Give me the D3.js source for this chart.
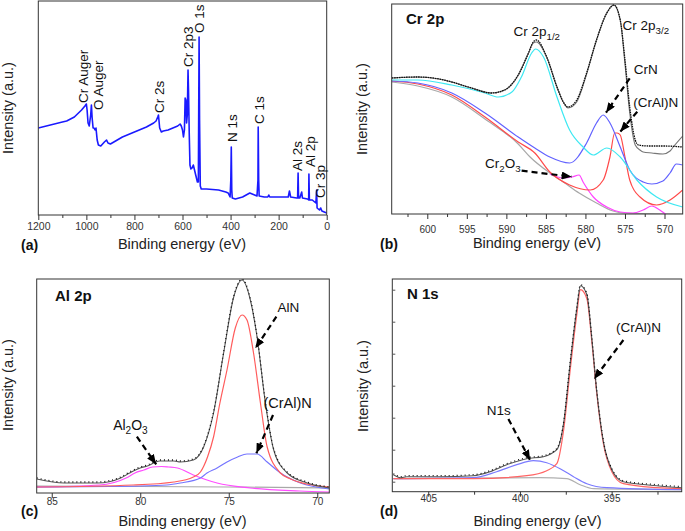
<!DOCTYPE html>
<html><head><meta charset="utf-8">
<script src="https://cdn.jsdelivr.net/npm/d3@7"></script>
<style>
body{margin:0;background:#fff;}
svg{display:block;font-family:"Liberation Sans",Arial,Helvetica,sans-serif;}
</style></head><body>
<svg id="fig" width="685" height="531"></svg>
<script>
// ---------------- DATA (binding energy eV, intensity a.u.) ----------------
// (a) survey spectrum
const surveySpectrum = [[1200,87],[1150,90],[1100,93],[1082,94],[1050,98],[1020,105],[1006,109],[1000,111],[997,105],[993,92],[988,89],[982,100],[979,110],[976,97],[972,87],[968,87],[964,85],[960,87],[955,75],[950,70],[940,69],[925,73],[916,75],[910,72],[900,71],[850,78],[800,83],[750,88],[720,92],[710,94],[703,98],[700,100],[695,87],[688,83],[680,84],[660,85],[640,87],[620,89],[610,91],[605,89],[600,85],[596,78],[592,85],[589,117],[586,115],[583,92],[580,100],[577,145],[575,125],[572,82],[569,50],[565,46],[560,47],[555,50],[550,45],[545,40],[538,33],[534,33],[531,178],[529,95],[526,29],[522,26],[500,26],[450,25],[420,23],[410,22],[402,18],[399,35],[397,68],[395,25],[393,17],[380,16],[350,18],[320,22],[300,20],[290,19],[286,35],[285,88],[283,35],[281,19],[260,18],[245,18],[241,20],[237,18],[200,18],[160,18],[155,24],[150,18],[125,17],[121,17],[119,42],[117,17],[112,17],[104,23],[101,17],[80,16],[75,15],[74,41],[72,15],[60,15],[45,12],[42,25],[40,7],[30,5],[25,7],[20,4],[10,3],[0,2]];
const surveyTicks = [1200,1000,800,600,400,200,0];
const surveyMinor = [1100,900,700,500,300,100];
const surveyPeakNames = ["Cr Auger","O Auger","Cr 2s","Cr 2p3","O 1s","N 1s","C 1s","Al 2s","Al 2p","Cr 3p"];
const surveyPeakAt = [[1014,112],[951.6,105],[697.7,102],[577,148],[529.2,182],[394,73],[281.6,91],[123.4,44],[69.3,48],[28,17]];

// (b) Cr 2p
const cr2pData = [[604.5,136],[601.2,137],[598.5,135],[596.9,132],[594.4,126],[591.9,121],[590.2,124],[588.5,139],[587.2,161],[586.6,172],[586.2,174],[584.9,157],[583.6,127],[582.8,112],[582.2,107],[581.1,114],[579.85,141],[578.6,174],[577.3,201],[576.4,209],[575.6,194],[575.0,154],[574.4,107],[573.7,74],[573.3,69],[572,68],[570,68],[567.7,67]];
const cr2pFit = [[604.5,136],[601.2,137],[598.5,135],[596.9,132],[594.4,126],[591.9,121],[590.2,124],[588.5,139],[587.2,161],[586.6,171],[586.2,172],[584.9,157],[583.6,127],[582.8,112],[582.2,106],[581.1,112],[579.85,140],[578.6,174],[577.3,201],[576.4,209],[575.6,194],[575.0,150],[574.4,101],[573.7,69],[573.1,64],[572.7,62],[571.6,61],[570.2,60],[569.3,63],[568.9,67],[567.7,78]];
const cr2pCrOx = [[584.5,40],[582.8,36],[581.7,37],[580.8,39],[580.3,32],[579.0,17],[577.3,7],[575.6,2],[574.0,1],[572.7,4],[571.6,8],[570.6,4],[569.7,-1],[568.5,-4]];
const cr2pCyan = [[604.5,134],[601.2,134],[596.9,129],[592.7,121],[591.0,117],[589.3,122],[588.1,137],[586.8,161],[586.3,165],[585.3,157],[583.6,117],[582.0,84],[580.3,67],[579.0,59],[577.3,66],[575.6,57],[573.5,34],[571.0,17],[567.7,7]];
const cr2pCrN = [[604.5,133],[601.2,131],[596.9,121],[592.7,101],[588.5,77],[586.4,66],[584.5,57],[582.0,51],[579.85,71],[578.6,91],[577.75,99],[576.9,91],[575.6,67],[574.4,44],[572.7,32],[571.6,30],[570.2,33],[569.3,41],[568.5,50],[567.7,49]];
const cr2pCrAlN = [[604.5,133],[601.2,130],[596.9,119],[592.7,97],[588.5,72],[586.4,61],[584.5,42],[582.0,29],[579.4,24],[577.75,34],[576.9,57],[576.3,81],[576.0,81],[575.6,79],[575.0,57],[574.4,34],[573.1,17],[571.0,9],[569.3,14],[567.7,24]];
const cr2pBackground = [[604.5,132],[601.2,128],[596.9,117],[592.7,95],[588.5,70],[587.0,57],[584.5,41],[582.8,32],[580.8,21],[578.6,11],[576.5,3],[575.2,1],[567.7,0]];
const cr2pTicks = [600,595,590,585,580,575,570];
const cr2pMinor = [602.5,597.5,592.5,587.5,582.5,577.5,572.5];

// (c) Al 2p
const al2pData = [[85.85,14],[84.3,10],[82.4,10],[81.1,15],[80.6,20],[80.0,25],[79.6,27],[78.9,32],[78.1,32],[77.74,31],[77.0,33],[76.42,46],[75.86,80],[75.29,140],[74.72,196],[74.25,213],[73.78,193],[73.4,156],[72.93,90],[72.46,43],[71.7,20],[70.57,10],[69.32,5]];
const al2pAlN = [[85.85,6],[80.4,8],[78.1,11],[77.0,16],[76.6,21],[76.2,36],[75.86,56],[75.5,90],[75.1,123],[74.63,165],[74.25,178],[73.97,173],[73.6,140],[73.21,90],[72.83,46],[72.08,20],[71.5,14],[70.6,9],[69.32,6]];
const al2pCrAlN = [[85.85,6],[80,7],[78.5,8],[77.74,10],[76.6,15],[76.23,20],[75.66,25],[75.1,31],[74.5,36],[73.97,39],[73.4,39],[72.83,31],[72.08,20],[70.95,10],[69.32,4]];
const al2pAl2O3 = [[85.85,6],[82.3,8],[80.8,15],[80.3,20],[79.8,23],[79.3,26],[78.8,26.5],[78.4,26],[77.9,25],[77.0,18],[75.66,10],[73.8,5],[71,2],[69.32,1]];
const al2pBackground = [[85.85,7],[80,6.5],[75,6],[69.32,5]];
const al2pTicks = [85,80,75,70];

// (d) N 1s
const n1sData = [[406.9,17],[406.5,14],[406.17,15],[404.36,15],[402.54,16],[401.63,20],[400.72,27],[399.63,33],[398.72,35],[397.99,42],[397.63,67],[397.27,127],[396.9,183],[396.7,206],[396.35,197],[396.08,153],[395.81,100],[395.45,50],[394.99,22],[394.36,10],[392.54,6],[391.18,4]];
const n1sCrAlN = [[406.9,13],[402.54,13],[399.63,16],[398.54,21],[397.99,28],[397.63,60],[397.27,120],[396.9,177],[396.7,202],[396.35,193],[396.08,150],[395.81,98],[395.45,48],[394.99,20],[394.36,8],[392.54,4],[391.18,3]];
const n1sPeak = [[406.9,13],[402.54,14],[401.27,20],[400.17,27],[399.27,31],[398.54,29],[397.81,23],[397.08,15],[396.35,8],[395.26,4],[391.18,2]];
const n1sBackground = [[406.9,13],[398.9,14],[397.45,13],[396.72,7],[395.99,3],[391.18,2]];
const n1sTicks = [405,400,395];
const n1sMinor = [402.5,397.5,392.5];
const n1sYTicks = [10,42,74,106,138,170,202];

// ---------------- DRAWING ----------------
const svg = d3.select("#fig");
const defs = svg.append("defs");
defs.append("marker").attr("id","ah").attr("viewBox","0 0 10 8").attr("refX",10).attr("refY",4)
  .attr("markerWidth",10).attr("markerHeight",8).attr("markerUnits","userSpaceOnUse").attr("orient","auto")
  .append("path").attr("d","M0,0L10,4L0,8Z").attr("fill","#000");

function rich(sel, segs, fs){
  let shift = 0;
  segs.forEach(s=>{
    const isSub = Array.isArray(s);
    const txt = isSub ? s[0] : s;
    const target = isSub ? fs*0.3 : 0;
    sel.append("tspan").attr("dy", target-shift).style("font-size",(isSub?fs*0.72:fs)+"px").text(txt);
    shift = target;
  });
}

function panel(p){
  const g = svg.append("g");
  const x = d3.scaleLinear().domain(p.xd).range([p.l,p.r]);
  const y = d3.scaleLinear().domain(p.yd).range([p.b,p.t]);
  const cid = "clip"+p.id;
  defs.append("clipPath").attr("id",cid).append("rect")
    .attr("x",p.l).attr("y",p.t).attr("width",p.r-p.l).attr("height",p.b-p.t);
  const cg = g.append("g").attr("clip-path",`url(#${cid})`);
  p.series.forEach(s=>{
    const line = d3.line().x(d=>x(d[0])).y(d=>y(d[1])).curve(s.curve||d3.curveMonotoneX);
    cg.append("path").datum(s.data).attr("d",line).attr("fill","none")
      .attr("stroke",s.color).attr("stroke-width",s.w||1.2)
      .attr("stroke-dasharray",s.dash||null).attr("stroke-linecap",s.cap||"butt")
      .attr("stroke-linejoin","round");
  });
  g.append("rect").attr("x",p.l).attr("y",p.t).attr("width",p.r-p.l).attr("height",p.b-p.t)
    .attr("fill","none").attr("stroke","#333").attr("stroke-width",1);
  // x axis
  const ax = g.append("g").attr("transform",`translate(0,${p.b})`)
    .call(d3.axisBottom(x).tickValues(p.major).tickSize(5).tickSizeOuter(0).tickFormat(d3.format("d")));
  ax.attr("font-family",null).attr("font-size",null);
  ax.select(".domain").remove();
  ax.selectAll(".tick line").attr("stroke","#333");
  ax.selectAll("text").attr("dy",null).attr("y",p.lab).style("font-size",p.fs+"px").attr("fill","#333");
  if (p.minor){
    const mx = g.append("g").attr("transform",`translate(0,${p.b})`)
      .call(d3.axisBottom(x).tickValues(p.minor).tickSize(3).tickSizeOuter(0).tickFormat(""));
    mx.select(".domain").remove();
    mx.selectAll(".tick line").attr("stroke","#333");
  }
  if (p.yticks){
    const my = g.append("g").attr("transform",`translate(${p.l},0)`)
      .call(d3.axisRight(y).tickValues(p.yticks).tickSize(3).tickSizeOuter(0).tickFormat(""));
    my.select(".domain").remove();
    my.selectAll(".tick line").attr("stroke","#555");
  }
  // axis titles
  g.append("text").attr("x",p.xt[0]).attr("y",p.xt[1]).attr("text-anchor","middle")
    .style("font-size","14.5px").attr("fill","#222").text("Binding energy (eV)");
  g.append("text").attr("transform",`translate(${p.yt[0]},${p.yt[1]}) rotate(-90)`)
    .attr("text-anchor","middle").attr("dy","0.35em").style("font-size","14.5px").attr("fill","#222")
    .text("Intensity (a.u.)");
  g.append("text").attr("x",p.letter[0]).attr("y",p.letter[1]).style("font-size","14px")
    .style("font-weight","bold").attr("fill","#111").text(p.letter[2]);
  if (p.title){
    g.append("text").attr("x",p.title[0]).attr("y",p.title[1]).style("font-size","15px")
      .style("font-weight","bold").attr("fill","#111").text(p.title[2]);
  }
  (p.notes||[]).forEach(n=>{
    const t = g.append("text").attr("x",x(n.at[0])).attr("y",y(n.at[1])).attr("fill","#111");
    rich(t, n.segs, n.fs||13.5);
  });
  (p.arrows||[]).forEach(a=>{
    g.append("line").attr("x1",x(a[0])).attr("y1",y(a[1])).attr("x2",x(a[2])).attr("y2",y(a[3]))
      .attr("stroke","#000").attr("stroke-width",2.2).attr("stroke-dasharray","6,4")
      .attr("marker-end","url(#ah)");
  });
  (p.vlabels||[]).forEach(v=>{
    g.append("text").attr("transform",`translate(${x(v[1][0])},${y(v[1][1])}) rotate(-90)`)
      .attr("dy","0.35em").style("font-size","13.5px").attr("fill","#111").text(v[0]);
  });
  return {x,y};
}

const dataStyle = {color:"#111", w:1.4, dash:"1,1.6"};

panel({id:"a", l:38.3, r:326.7, t:1, b:215, xd:[1200,0], yd:[0,214],
  major:surveyTicks, minor:surveyMinor, lab:15, fs:10.5,
  series:[{data:surveySpectrum, color:"#1a1aff", w:1.6, curve:d3.curveLinear}],
  xt:[182,249], yt:[8,108], letter:[21,250,"(a)"],
  vlabels: surveyPeakNames.map((nm,i)=>[nm, surveyPeakAt[i]])
});

panel({id:"b", l:391.7, r:682.7, t:4, b:214, xd:[604.5,567.7], yd:[0,210],
  major:cr2pTicks, minor:cr2pMinor, lab:19, fs:10,
  series:[
    {data:cr2pBackground, color:"#a8a8a8"},
    {data:cr2pCrOx, color:"#ff44ff"},
    {data:cr2pCrAlN, color:"#ff4a4a"},
    {data:cr2pCrN, color:"#6262ff"},
    {data:cr2pCyan, color:"#3ee8f2"},
    {data:cr2pFit, color:"#777", w:1.1},
    Object.assign({}, dataStyle, {data:cr2pData, dash:"1.6,0.8", w:1.3})
  ],
  xt:[537,248], yt:[362,109], letter:[380,249,"(b)"], title:[406,24,"Cr 2p"],
  notes:[
    {segs:["Cr 2p",["1/2"]], at:[589.1,178.3]},
    {segs:["Cr 2p",["3/2"]], at:[575.3,184]},
    {segs:["CrN"], at:[573.9,140]},
    {segs:["(CrAl)N"], at:[573.95,107.5]},
    {segs:["Cr",["2"],"O",["3"]], at:[592.7,45.7]}
  ],
  arrows:[[574.4,135.7,577.4,101.3],[573.45,102.3,575.6,82.3],[588.07,43.3,581.74,37.3]]
});

panel({id:"c", l:36.7, r:329.3, t:279, b:493, xd:[85.85,69.32], yd:[0,214],
  major:al2pTicks, lab:12, fs:10,
  series:[
    {data:al2pBackground, color:"#a8a8a8"},
    {data:al2pAl2O3, color:"#ff4cff"},
    {data:al2pCrAlN, color:"#7474ff"},
    {data:al2pAlN, color:"#ff5c5c"},
    {data:al2pData, color:"#555", w:1.1},
    Object.assign({}, dataStyle, {data:al2pData.map(d=>[d[0],d[1]+1]), dash:"1,3", w:1.3})
  ],
  xt:[182.5,525.5], yt:[8,385], letter:[21,515.5,"(c)"], title:[55,301,"Al 2p"],
  notes:[
    {segs:["AlN"], at:[72.25,181.3]},
    {segs:["(CrAl)N"], at:[73.04,84.7], fs:14.5},
    {segs:["Al",["2"],"O",["3"]], at:[81.53,63], fs:14}
  ],
  arrows:[[72.31,176.3,73.5,144.7],[72.5,78,73.44,39.7],[80.19,56.3,79.1,28.7]]
});

panel({id:"d", l:392.3, r:681.7, t:279, b:491.7, xd:[406.96,391.18], yd:[0,212.7],
  major:n1sTicks, minor:n1sMinor, lab:10.6, fs:10, yticks:n1sYTicks,
  series:[
    {data:n1sBackground, color:"#b0b0b0"},
    {data:n1sPeak, color:"#7a7aff"},
    {data:n1sCrAlN, color:"#ff6464"},
    {data:n1sData, color:"#555", w:1.1},
    Object.assign({}, dataStyle, {data:n1sData.map(d=>[d[0],d[1]+1]), dash:"1,3", w:1.3})
  ],
  xt:[537.5,525.5], yt:[362.5,386], letter:[380,515.5,"(d)"], title:[407,299,"N 1s"],
  notes:[
    {segs:["(CrAl)N"], at:[394.76,160]},
    {segs:["N1s"], at:[401.81,76.7]}
  ],
  arrows:[[394.36,151.7,395.96,112.7],[400.63,72.7,399.45,31.7]]
});
</script>
</body></html>
